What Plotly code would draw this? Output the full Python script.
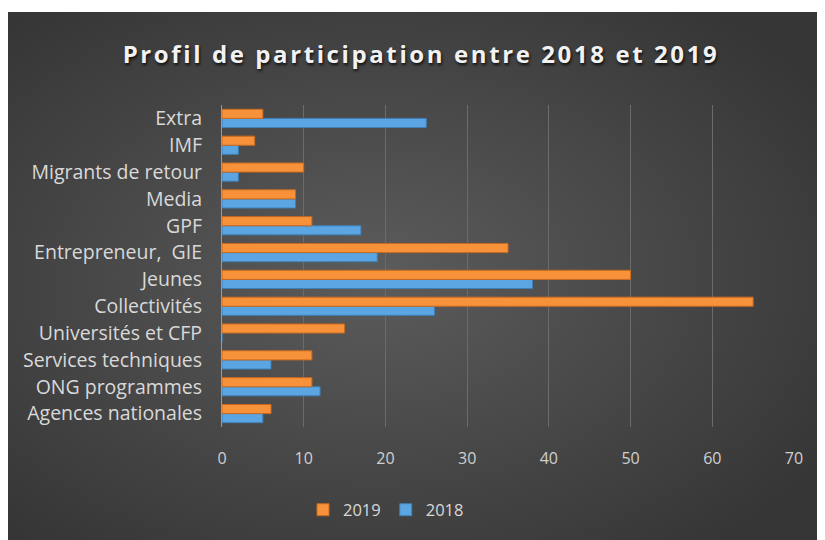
import plotly.graph_objects as go
import base64

categories = ["Agences nationales", "ONG programmes", "Services techniques",
              "Universités et CFP", "Collectivités", "Jeunes",
              "Entrepreneur,  GIE", "GPF", "Media", "Migrants de retour",
              "IMF", "Extra"]
values_2019 = [6, 11, 11, 15, 65, 50, 35, 11, 9, 10, 4, 5]
values_2018 = [5, 12, 6, 0, 26, 38, 19, 17, 9, 2, 2, 25]
x_ticks = [0, 10, 20, 30, 40, 50, 60, 70]

# page body has an 8px margin, so the figure is drawn at (8, 8)
OFF = 8
W, H = 825 - OFF, 540 - OFF
L, R, T, B = 222 - OFF, 825 - 794, 105 - OFF, 540 - 427
pw, ph = W - L - R, H - T - B

svg = ('<svg xmlns="http://www.w3.org/2000/svg" width="816" height="528">'
       '<defs><radialGradient id="g" cx="45%" cy="50%" r="65%">'
       '<stop offset="0%" stop-color="#5c5c5c"/>'
       '<stop offset="100%" stop-color="#363636"/>'
       '</radialGradient></defs>'
       '<rect width="816" height="528" fill="url(#g)"/></svg>')
src = "data:image/svg+xml;base64," + base64.b64encode(svg.encode()).decode()

fig = go.Figure()
fig.add_trace(go.Bar(
    y=categories, x=values_2018, name="2018", orientation="h",
    marker=dict(color="#5ba5e2", line=dict(color="#3f7fb5", width=1)),
))
fig.add_trace(go.Bar(
    y=categories, x=values_2019, name="2019", orientation="h",
    marker=dict(color="#f7913a", line=dict(color="#c76a1f", width=1)),
))

px0, px1 = 8 - OFF, 824 - OFF
py0, py1 = 12 - OFF, 540 - OFF
fig.add_layout_image(dict(
    source=src, xref="paper", yref="paper",
    x=(px0 - L) / pw, y=(H - B - py0) / ph,
    sizex=(px1 - px0) / pw, sizey=(py1 - py0) / ph,
    sizing="stretch", xanchor="left", yanchor="top", layer="below",
))

fig.update_layout(
    width=W, height=H,
    margin=dict(l=L, r=R, t=T, b=B),
    paper_bgcolor="white",
    plot_bgcolor="rgba(0,0,0,0)",
    barmode="group",
    bargap=0.32,
    bargroupgap=0.0,
    title=dict(
        text='<span style="letter-spacing:2.6px">Profil de participation entre 2018 et 2019</span>',
        x=(421 - OFF) / W, xref="container", xanchor="center",
        y=1 - (55 - OFF) / H, yref="container", yanchor="middle",
        font=dict(family="Open Sans", size=24, color="#f2f2f2", weight="bold",
                  shadow="1px 2px 3px rgba(0,0,0,0.8)"),
    ),
    xaxis=dict(
        range=[0, 70], tickvals=x_ticks, showgrid=True,
        gridcolor="#6b6b6b", gridwidth=1, zeroline=False,
        tickfont=dict(family="Open Sans", size=16, color="#d0d0d0"),
        ticks="", ticklabelstandoff=20, showline=False,
    ),
    yaxis=dict(
        tickfont=dict(family="Open Sans", size=19.5, color="#d9d9d9"),
        showline=True, linecolor="#9a9a9a", linewidth=1,
        ticks="", ticklabelstandoff=15, showgrid=False,
    ),
    legend=dict(
        orientation="h", x=(386 - L - OFF) / pw, xanchor="center",
        y=-(510 - 427) / ph, yanchor="middle",
        traceorder="reversed",
        font=dict(family="Open Sans", size=16.5, color="#d9d9d9"),
        bgcolor="rgba(0,0,0,0)", itemwidth=30,
    ),
    showlegend=True,
)

fig.write_html("out.html")
